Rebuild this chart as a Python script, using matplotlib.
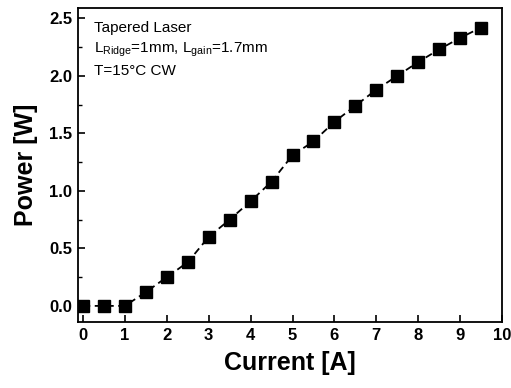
import matplotlib
matplotlib.use("Agg")
import matplotlib.pyplot as plt
from matplotlib.ticker import MultipleLocator

current = [0, 0.5, 1, 1.5, 2, 2.5, 3, 3.5, 4, 4.5, 5, 5.5, 6, 6.5, 7, 7.5, 8, 8.5, 9, 9.5]
power = [0.0, 0.0, 0.0, 0.12, 0.25, 0.38, 0.60, 0.75, 0.91, 1.08, 1.31, 1.43, 1.60, 1.74, 1.88, 2.00, 2.12, 2.23, 2.33, 2.42]
xticks = list(range(0, 11))
yticks = [0.0, 0.5, 1.0, 1.5, 2.0, 2.5]

plt.rcParams['font.family'] = ['Liberation Sans', 'DejaVu Sans']
plt.rcParams['mathtext.fontset'] = 'custom'
plt.rcParams['mathtext.rm'] = 'Liberation Sans'
plt.rcParams['mathtext.it'] = 'Liberation Sans'

fig = plt.figure(figsize=(5.11, 3.88), dpi=100)
ax = fig.add_axes([78/511, 1-322/388, (502-78)/511, (322-8)/388])

ax.plot(current, power, linestyle=(0, (4, 2.5)), color='black', lw=1.3,
        marker='s', markersize=8, markerfacecolor='black', markeredgecolor='black')

ax.set_xlim(-0.12, 10.0)
ax.set_ylim(-0.14, 2.59)
ax.set_xticks(xticks)
ax.set_xticklabels([str(t) for t in xticks])
ax.set_yticks(yticks)
ax.set_yticklabels([f"{t:.1f}" for t in yticks])
ax.yaxis.set_minor_locator(MultipleLocator(0.25))
ax.tick_params(axis='both', which='both', direction='in', top=False, right=False)
ax.tick_params(axis='both', which='major', length=5, width=1.2, labelsize=12, pad=4)
ax.tick_params(axis='y', which='minor', length=3, width=1)
for lbl in ax.get_xticklabels() + ax.get_yticklabels():
    lbl.set_fontweight('bold')
for s in ax.spines.values():
    s.set_linewidth(1.3)

ax.set_xlabel('Current [A]', fontsize=18, fontweight='bold', labelpad=6)
ax.set_ylabel('Power [W]', fontsize=18, fontweight='bold', labelpad=8)

ax.text(0.038, 0.924, 'Tapered Laser', transform=ax.transAxes, fontsize=11, va='baseline')
ax.text(0.038, 0.857, r'L$_{\mathrm{Ridge}}$=1mm, L$_{\mathrm{gain}}$=1.7mm', transform=ax.transAxes, fontsize=11, va='baseline')
ax.text(0.038, 0.787, 'T=15°C CW', transform=ax.transAxes, fontsize=11, va='baseline')

fig.savefig('out.png', dpi=100)
